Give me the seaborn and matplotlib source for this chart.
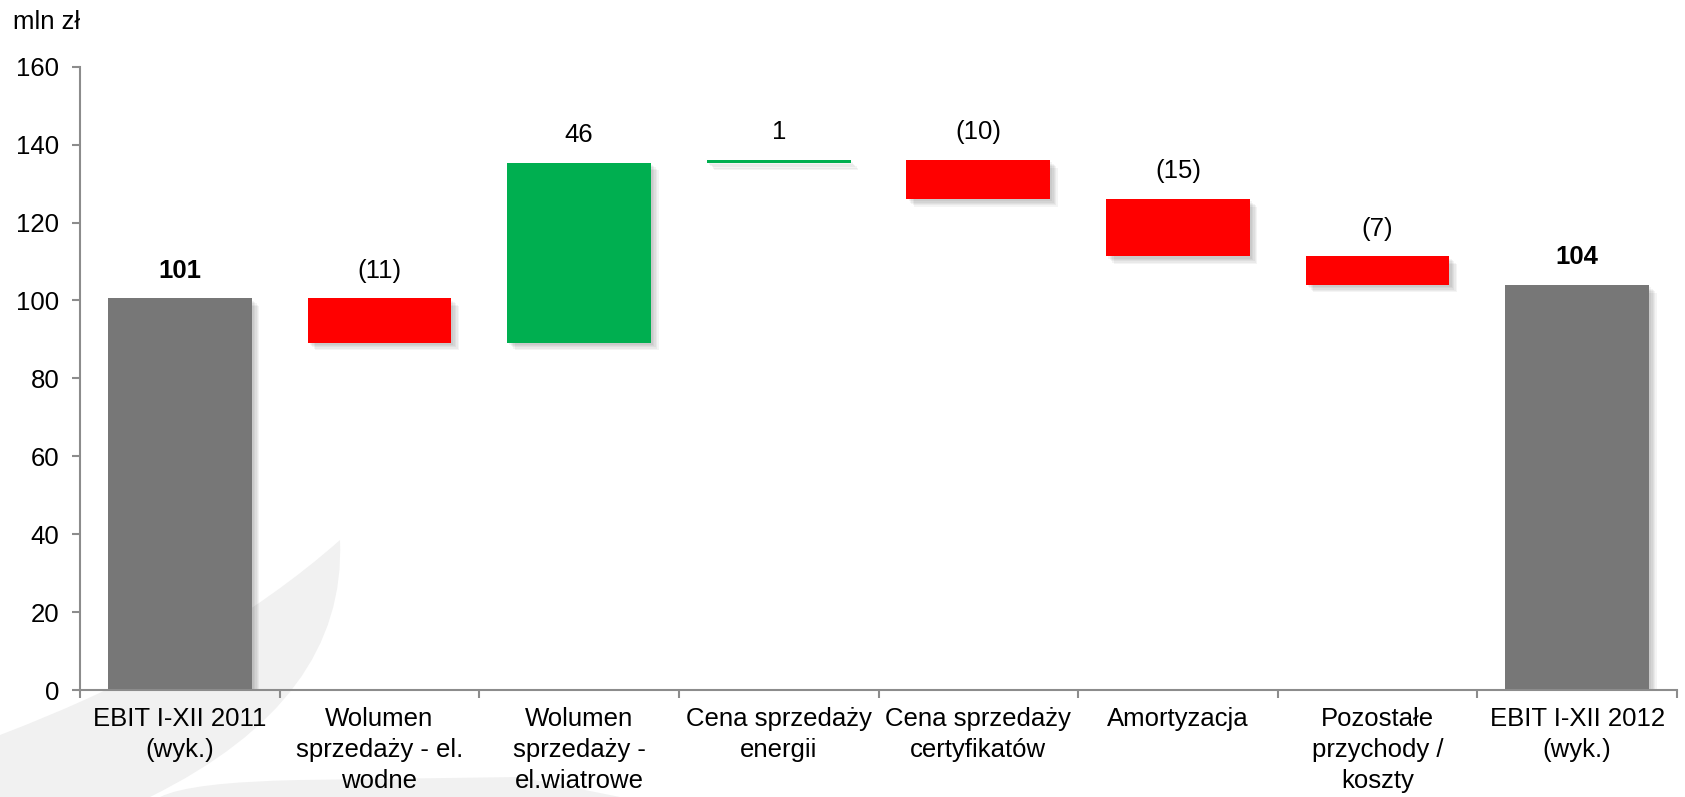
import matplotlib
matplotlib.use("Agg")
import matplotlib.pyplot as plt
import matplotlib.patheffects as pe
from matplotlib.path import Path
from matplotlib.patches import PathPatch
import numpy as np
import seaborn as sns

# Dane wykresu (mln zł)
categories = [
    "EBIT I-XII 2011\n(wyk.)",
    "Wolumen\nsprzedaży - el.\nwodne",
    "Wolumen\nsprzedaży -\nel.wiatrowe",
    "Cena sprzedaży\nenergii",
    "Cena sprzedaży\ncertyfikatów",
    "Amortyzacja",
    "Pozostałe\nprzychody /\nkoszty",
    "EBIT I-XII 2012\n(wyk.)",
]
values = [100.5, -11.3, 46.2, 0.6, -10.0, -14.7, -7.3, 103.9]
kinds = ["total", "delta", "delta", "delta", "delta", "delta", "delta", "total"]
value_labels = ["101", "(11)", "46", "1", "(10)", "(15)", "(7)", "104"]

GREY = "#777777"
RED = "#ff0000"
GREEN = "#00af50"
AXIS = "#8c8c8c"

# Podstawy słupków (wodospad)
bottoms = []
running = 0.0
for v, k in zip(values, kinds):
    if k == "total":
        bottoms.append(0.0)
        running = v
    else:
        bottoms.append(running)
        running += v
colors = [GREY if k == "total" else (GREEN if v >= 0 else RED)
          for v, k in zip(values, kinds)]

sns.set_theme(style="white")
plt.rcParams["font.family"] = ["Liberation Sans", "DejaVu Sans"]

W, H = 1685, 797
fig = plt.figure(figsize=(W / 100, H / 100), dpi=100)


def fx(px):
    return px / W


def fy(py):
    return 1 - py / H


# Znak wodny w tle (jasnoszary kształt w lewym dolnym rogu)
crescent = Path(
    [(fx(0), fy(735)), (fx(210), fy(655)), (fx(340), fy(540)),
     (fx(347), fy(700)), (fx(150), fy(797)), (fx(0), fy(797)), (fx(0), fy(735))],
    [Path.MOVETO, Path.CURVE3, Path.CURVE3, Path.CURVE3, Path.CURVE3,
     Path.LINETO, Path.CLOSEPOLY],
)
band = Path(
    [(fx(160), fy(797)), (fx(190), fy(782)), (fx(300), fy(780)),
     (fx(520), fy(777)), (fx(620), fy(797)), (fx(160), fy(797))],
    [Path.MOVETO, Path.CURVE3, Path.CURVE3, Path.LINETO, Path.LINETO,
     Path.CLOSEPOLY],
)
for p in (crescent, band):
    fig.patches.append(PathPatch(p, transform=fig.transFigure,
                                 facecolor="#f1f1f1", edgecolor="none",
                                 zorder=-1))

ax = fig.add_axes([fx(80), fy(690), fx(1677) - fx(80), fy(66.7) - fy(690)])
ax.patch.set_alpha(0)

sns.barplot(x=categories, y=values, bottom=bottoms, color=GREY,
            errorbar=None, width=0.72, saturation=1, ax=ax, zorder=3)

# miękki cień: kilka warstw z małą przezroczystością
shadow = [pe.SimplePatchShadow(offset=(d, -d), shadow_rgbFace="black", alpha=0.045)
          for d in (1.5, 2.5, 3.5, 4.5, 5.5)]
for patch, c in zip(ax.patches, colors):
    patch.set_facecolor(c)
    patch.set_edgecolor("none")
    patch.set_path_effects(shadow + [pe.Normal()])

# Etykiety wartości
for i, (v, b, lab, k) in enumerate(zip(values, bottoms, value_labels, kinds)):
    top = max(b, b + v)
    ax.annotate(lab, (i, top), xytext=(0, 20), textcoords="offset points",
                ha="center", va="center", fontsize=18.5,
                fontweight="bold" if k == "total" else "normal",
                color="black")

ax.set_ylim(0, 160)
ax.set_xlim(-0.5, len(categories) - 0.5)
ax.set_yticks(np.arange(0, 161, 20))
ax.tick_params(axis="y", direction="out", length=6, width=1.5, color=AXIS,
               pad=9, labelsize=18.5, labelcolor="black", left=True)

# Podziałki osi X na granicach kategorii, opisy pośrodku
ax.set_xticks(np.arange(-0.5, len(categories), 1.0))
ax.set_xticklabels([])
ax.set_xticks(np.arange(len(categories)), minor=True)
ax.set_xticklabels(categories, minor=True, fontsize=18.5, linespacing=1.38)
ax.tick_params(axis="x", which="major", direction="out", length=6, width=1.5,
               color=AXIS, bottom=True)
ax.tick_params(axis="x", which="minor", length=0, pad=12, labelcolor="black")

ax.set_xlabel("")
ax.set_ylabel("")
for side in ("top", "right"):
    ax.spines[side].set_visible(False)
for side in ("left", "bottom"):
    ax.spines[side].set_color(AXIS)
    ax.spines[side].set_linewidth(1.5)
    ax.spines[side].set_zorder(4)

fig.text(fx(13), fy(10), "mln zł", ha="left", va="top", fontsize=18.5,
         color="black")

fig.savefig("out.png", dpi=100)
